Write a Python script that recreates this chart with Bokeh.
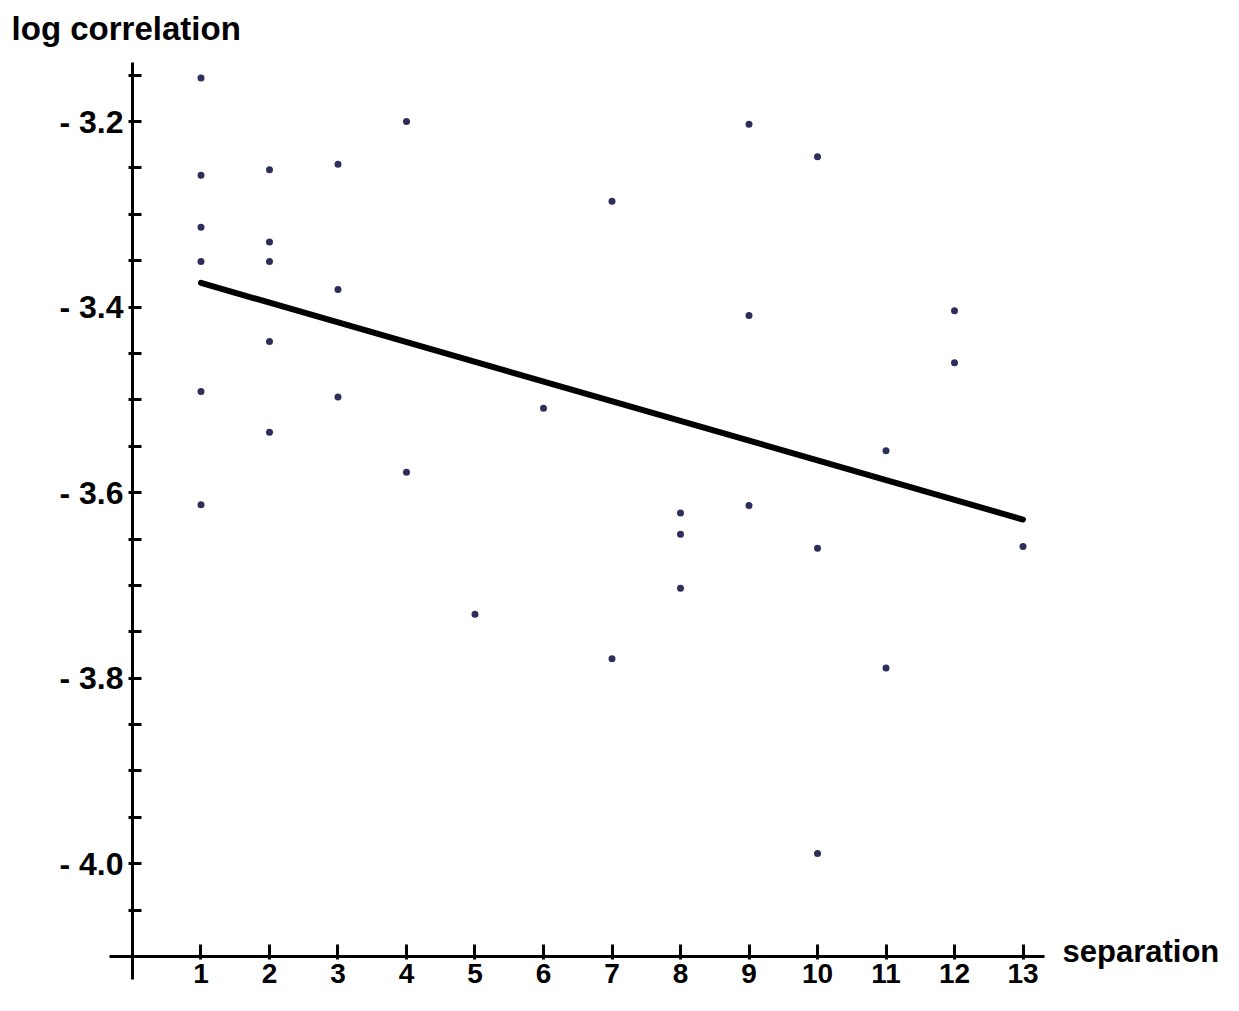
from bokeh.plotting import figure
from bokeh.models import FixedTicker, Label, ColumnDataSource
from bokeh.embed import file_html
from bokeh.resources import INLINE

# ---- data ----
sep = [1, 1, 1, 1, 1, 1,
       2, 2, 2, 2, 2,
       3, 3, 3,
       4, 4,
       5,
       6,
       7, 7,
       8, 8, 8,
       9, 9, 9,
       10, 10, 10,
       11, 11,
       12, 12,
       13]
logcorr = [-3.153, -3.258, -3.314, -3.351, -3.491, -3.613,
           -3.252, -3.330, -3.351, -3.437, -3.535,
           -3.246, -3.381, -3.497,
           -3.200, -3.578,
           -3.731,
           -3.509,
           -3.286, -3.779,
           -3.622, -3.645, -3.703,
           -3.203, -3.409, -3.614,
           -3.238, -3.660, -3.989,
           -3.555, -3.789,
           -3.404, -3.460,
           -3.658]

fit_x = [1, 13]
fit_y = [-3.374, -3.629]

x_ticks = [1, 2, 3, 4, 5, 6, 7, 8, 9, 10, 11, 12, 13]
y_ticks = [-4.0, -3.8, -3.6, -3.4, -3.2]
y_tick_labels = ["- 4.0", "- 3.8", "- 3.6", "- 3.4", "- 3.2"]
y_minor = [-4.05, -3.95, -3.9, -3.85, -3.75, -3.7, -3.65, -3.55, -3.5, -3.45,
           -3.35, -3.3, -3.25, -3.15]

FONT = "Liberation Sans"

p = figure(width=1223, height=995,
           x_range=(-1.927, 15.927), y_range=(-4.14201, -3.06958),
           output_backend="svg", toolbar_location=None,
           min_border=0, min_border_left=0, min_border_right=0,
           min_border_top=0, min_border_bottom=0)
p.outline_line_color = None
p.grid.visible = False
p.background_fill_color = "white"
p.border_fill_color = "white"

# axes crossing at (0, -4.1)
xa = p.xaxis[0]
ya = p.yaxis[0]
xa.fixed_location = -4.1
ya.fixed_location = 0
xa.bounds = (-0.34, 13.31)
ya.bounds = (-4.125, -3.1367)

xa.ticker = FixedTicker(ticks=x_ticks, minor_ticks=[])
ya.ticker = FixedTicker(ticks=y_ticks, minor_ticks=y_minor)
ya.major_label_overrides = dict(zip(y_ticks, y_tick_labels))

for ax in (xa, ya):
    ax.axis_line_width = 3
    ax.axis_line_color = "black"
    ax.major_tick_line_width = 3
    ax.major_tick_line_color = "black"
    ax.minor_tick_line_width = 3
    ax.minor_tick_line_color = "black"
    ax.major_label_text_font = FONT
    ax.major_label_text_font_style = "bold"
    ax.major_label_text_color = "black"

xa.major_label_text_font_size = "28px"
ya.major_label_text_font_size = "32px"

xa.major_tick_in = 12
xa.major_tick_out = 3
xa.major_label_standoff = 4
ya.major_tick_in = 9
ya.major_tick_out = 4
ya.minor_tick_in = 9
ya.minor_tick_out = 4
ya.major_label_standoff = 5

# fit line
p.line(fit_x, fit_y, line_color="black", line_width=6, line_cap="round")

# data points
src = ColumnDataSource(dict(x=sep, y=logcorr))
p.scatter("x", "y", source=src, size=7, fill_color="#2e2e5c", line_color=None)

# axis titles
p.add_layout(Label(x=-1.765, y=-3.0998, text="log correlation",
                   text_font=FONT, text_font_style="bold", text_font_size="33px",
                   text_color="black", text_baseline="alphabetic", text_align="left"))
p.add_layout(Label(x=13.577, y=-4.0951, text="separation",
                   text_font=FONT, text_font_style="bold", text_font_size="31px",
                   text_color="black", text_baseline="alphabetic", text_align="left"))

open("out.html", "w").write(file_html(p, INLINE))
